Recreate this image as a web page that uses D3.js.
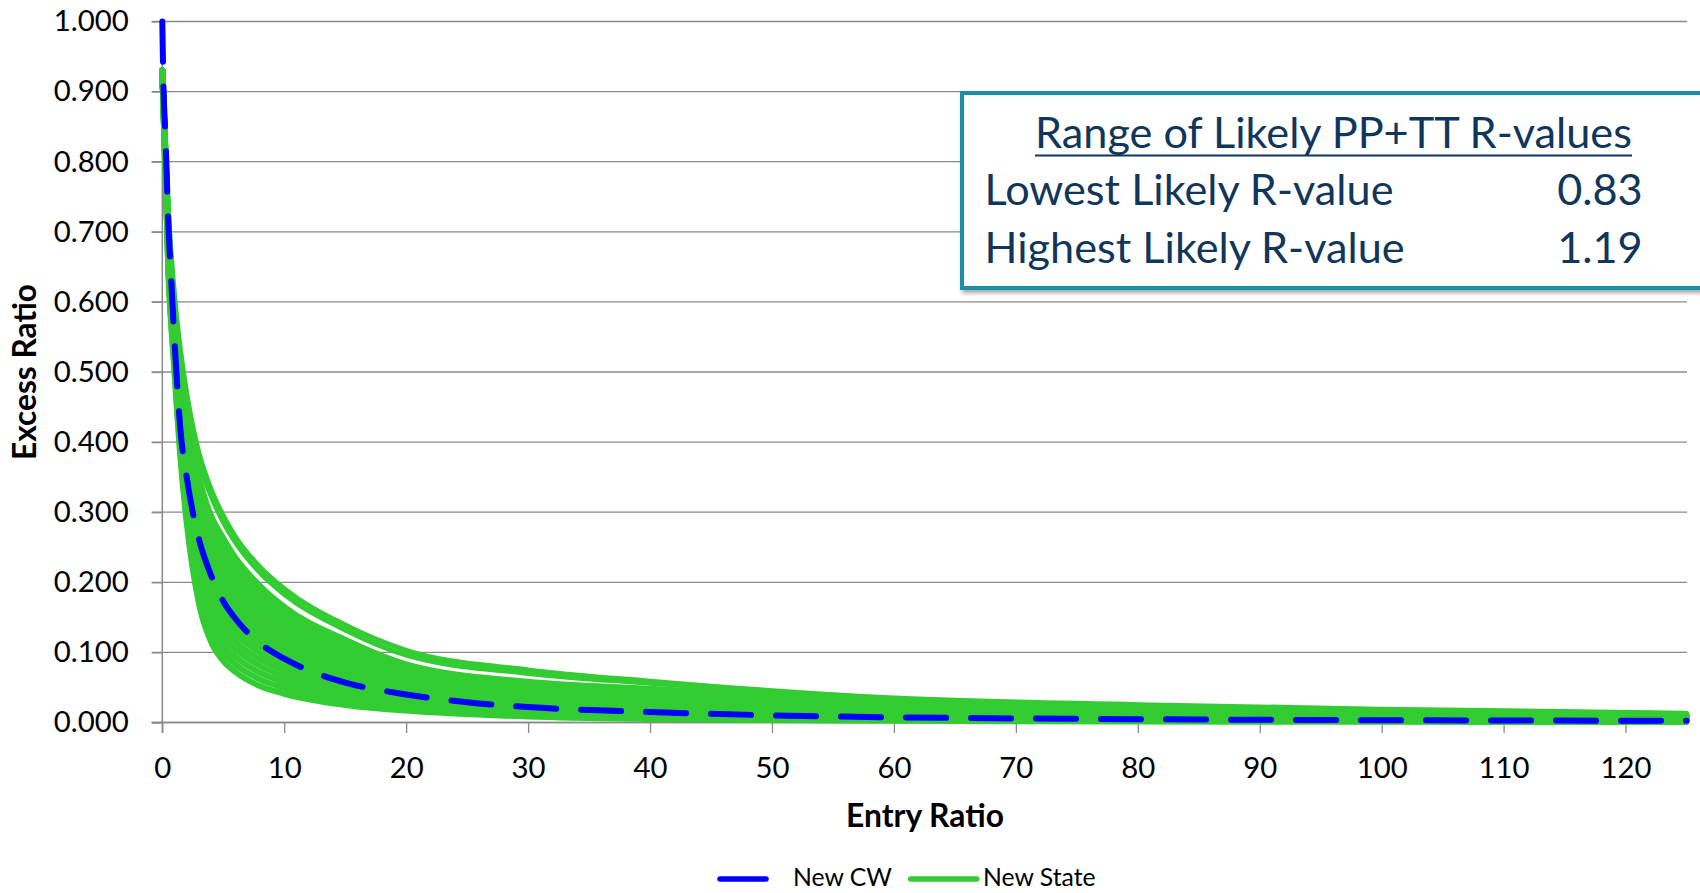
<!DOCTYPE html>
<html><head><meta charset="utf-8">
<script src="https://cdn.jsdelivr.net/npm/d3@7"></script>
<style>
html,body{margin:0;padding:0;background:#fff;}
svg{display:block;}
text{font-family:"Lato","Open Sans",sans-serif;}
</style></head>
<body><svg id="chart" width="1700" height="893"></svg>
<script>
// ---------- DATA ----------
const entryRatioCW = [0, 0.1, 0.25, 0.5, 0.75, 1, 1.5, 2, 2.5, 3, 4, 5, 6, 8, 10, 12.5, 15, 20, 25, 30, 40, 50, 60, 70, 80, 90, 100, 110, 125];
const excessCW     = [1.0, 0.905, 0.84, 0.71, 0.625, 0.545, 0.415, 0.35, 0.30, 0.262, 0.21, 0.173, 0.148, 0.113, 0.091, 0.071, 0.057, 0.040, 0.029, 0.022, 0.015, 0.0102, 0.0074, 0.0058, 0.0047, 0.0039, 0.0033, 0.0029, 0.0024];

const entryRatioState = [0, 0.5, 1, 1.5, 2, 3, 4, 5, 6, 8, 10, 15, 20, 30, 40, 60, 80, 100, 125];
const state01 = [0.93, 0.73, 0.61, 0.53, 0.47, 0.385, 0.333, 0.295, 0.265, 0.222, 0.191, 0.139, 0.103, 0.075, 0.059, 0.035, 0.0255, 0.019, 0.0133];
const state02 = [0.93, 0.72, 0.595, 0.515, 0.455, 0.372, 0.323, 0.286, 0.257, 0.214, 0.183, 0.132, 0.096, 0.070, 0.056, 0.033, 0.024, 0.0178, 0.0124];
const state03 = [0.93, 0.71, 0.58, 0.49, 0.43, 0.35, 0.295, 0.263, 0.235, 0.195, 0.165, 0.118, 0.083, 0.058, 0.048, 0.030, 0.0215, 0.016, 0.011];
const state04 = [0.93, 0.705, 0.575, 0.482, 0.420, 0.338, 0.283, 0.251, 0.224, 0.1855, 0.1567, 0.1118, 0.0786, 0.0547, 0.0451, 0.0282, 0.0202, 0.015, 0.0103];
const state05 = [0.93, 0.701, 0.569, 0.475, 0.411, 0.326, 0.271, 0.240, 0.213, 0.176, 0.1485, 0.1056, 0.0742, 0.0514, 0.0423, 0.0263, 0.0188, 0.014, 0.0096];
const state06 = [0.93, 0.696, 0.564, 0.467, 0.401, 0.314, 0.259, 0.228, 0.2024, 0.1664, 0.1402, 0.0994, 0.0698, 0.0481, 0.0394, 0.0245, 0.0175, 0.013, 0.0089];
const state07 = [0.93, 0.691, 0.559, 0.459, 0.391, 0.302, 0.247, 0.216, 0.1915, 0.1569, 0.1319, 0.0932, 0.0654, 0.0448, 0.0365, 0.0227, 0.0162, 0.012, 0.0083];
const state08 = [0.93, 0.687, 0.553, 0.452, 0.382, 0.290, 0.235, 0.205, 0.1807, 0.1473, 0.1237, 0.087, 0.061, 0.0415, 0.0337, 0.0208, 0.0148, 0.011, 0.0076];
const state09 = [0.93, 0.682, 0.548, 0.444, 0.372, 0.278, 0.223, 0.193, 0.1698, 0.1378, 0.1154, 0.0808, 0.0566, 0.0382, 0.0308, 0.019, 0.0135, 0.010, 0.0069];
const state10 = [0.93, 0.677, 0.543, 0.436, 0.362, 0.266, 0.211, 0.181, 0.1589, 0.1283, 0.1071, 0.0746, 0.0522, 0.0349, 0.0279, 0.0172, 0.0122, 0.009, 0.0062];
const state11 = [0.93, 0.673, 0.537, 0.429, 0.353, 0.254, 0.199, 0.170, 0.1481, 0.1187, 0.0989, 0.0684, 0.0478, 0.0316, 0.0251, 0.0153, 0.0108, 0.008, 0.0055];
const state12 = [0.93, 0.668, 0.532, 0.421, 0.343, 0.242, 0.187, 0.158, 0.1372, 0.1092, 0.0906, 0.0622, 0.0434, 0.0283, 0.0222, 0.0135, 0.0095, 0.007, 0.0048];
const state13 = [0.93, 0.663, 0.527, 0.413, 0.333, 0.230, 0.175, 0.146, 0.1263, 0.0997, 0.0823, 0.056, 0.039, 0.025, 0.0193, 0.0117, 0.0082, 0.006, 0.0041];
const state14 = [0.93, 0.659, 0.521, 0.406, 0.324, 0.218, 0.163, 0.135, 0.1155, 0.0901, 0.0741, 0.0498, 0.0346, 0.0217, 0.0165, 0.0098, 0.0068, 0.005, 0.0034];
const state15 = [0.93, 0.654, 0.516, 0.398, 0.314, 0.206, 0.151, 0.123, 0.1046, 0.0806, 0.0658, 0.0436, 0.0302, 0.0184, 0.0136, 0.008, 0.0055, 0.004, 0.0027];
const state16 = [0.93, 0.649, 0.511, 0.390, 0.304, 0.194, 0.139, 0.111, 0.0937, 0.0711, 0.0575, 0.0374, 0.0258, 0.0151, 0.0107, 0.0062, 0.0042, 0.003, 0.0021];
const state17 = [0.93, 0.645, 0.505, 0.383, 0.295, 0.182, 0.127, 0.0997, 0.0829, 0.0615, 0.0493, 0.0312, 0.0214, 0.0118, 0.0079, 0.0043, 0.0028, 0.002, 0.0014];
const state18 = [0.93, 0.64, 0.50, 0.375, 0.285, 0.17, 0.115, 0.088, 0.072, 0.052, 0.041, 0.025, 0.017, 0.0085, 0.005, 0.0025, 0.0015, 0.001, 0.0007];
const outerStates = [state01, state02];
const bandStates = [state03, state04, state05, state06, state07, state08, state09, state10,
                    state11, state12, state13, state14, state15, state16, state17, state18];

const yTicks = [0, 0.1, 0.2, 0.3, 0.4, 0.5, 0.6, 0.7, 0.8, 0.9, 1.0];
const xTicks = [0, 10, 20, 30, 40, 50, 60, 70, 80, 90, 100, 110, 120];
const xTitle = "Entry Ratio";
const yTitle = "Excess Ratio";
const legendLabels = ["New CW", "New State"];
const boxTitle = "Range of Likely PP+TT R-values";
const boxRowLabels = ["Lowest Likely R-value", "Highest Likely R-value"];
const boxRowValues = ["0.83", "1.19"];

// ---------- LAYOUT ----------
(function () {
const svg = d3.select("#chart");
const pLeft = 162.3, pRight = 1686.5, pTop = 21.5, pBottom = 722.5;
const x = d3.scaleLinear().domain([0, 125]).range([pLeft, pRight]);
const y = d3.scaleLinear().domain([0, 1]).range([pBottom, pTop]);
const gridColor = "#8a8a8a";
const navy = "#11365c";
const green = "#33cc33";

function fitSize(sel, target, base) {
  base = base || 40;
  sel.style("font-size", base + "px");
  const len = sel.node().getComputedTextLength();
  const s = base * target / len;
  sel.style("font-size", s + "px");
  return s;
}

// gridlines
svg.append("g").selectAll("line").data(yTicks).join("line")
  .attr("x1", pLeft - 10.6).attr("x2", 1687)
  .attr("y1", d => y(d)).attr("y2", d => y(d))
  .attr("stroke", gridColor).attr("stroke-width", 1.3);

// y axis
const yAxis = svg.append("g").attr("transform", `translate(${pLeft},0)`)
  .call(d3.axisLeft(y).tickValues(yTicks).tickFormat(d3.format(".3f")).tickSize(10.6).tickPadding(23));
yAxis.select(".domain").remove();
yAxis.selectAll(".tick line").attr("stroke", gridColor).attr("stroke-width", 1.3);
svg.append("line").attr("x1", pLeft).attr("x2", pLeft).attr("y1", pTop).attr("y2", pBottom + 10.5)
  .attr("stroke", gridColor).attr("stroke-width", 1.5);

// x axis
const xAxis = svg.append("g").attr("transform", `translate(0,${pBottom})`)
  .call(d3.axisBottom(x).tickValues(xTicks).tickSize(10.5).tickPadding(24));
xAxis.select(".domain").remove();
xAxis.selectAll(".tick line").attr("stroke", gridColor).attr("stroke-width", 1.3);
svg.append("line").attr("x1", pLeft - 10.6).attr("x2", 1687).attr("y1", pBottom).attr("y2", pBottom)
  .attr("stroke", gridColor).attr("stroke-width", 1.5);

// tick label fonts
svg.selectAll(".tick text").attr("font-family", null).attr("fill", "#000");
const probe = yAxis.selectAll(".tick text").filter(d => d === 1.0);
const tickFont = fitSize(probe, 75);
svg.selectAll(".tick text").style("font-size", tickFont + "px");
yAxis.attr("font-size", null);
xAxis.attr("font-size", null);

// axis titles
const yt = svg.append("text").text(yTitle).attr("font-weight", "bold").attr("fill", "#000")
  .attr("text-anchor", "middle").attr("dominant-baseline", "central")
  .attr("transform", "translate(24,372) rotate(-90)");
fitSize(yt, 176);
const xt = svg.append("text").text(xTitle).attr("font-weight", "bold").attr("fill", "#000")
  .attr("text-anchor", "middle").attr("dominant-baseline", "central")
  .attr("x", 925).attr("y", 815);
fitSize(xt, 158);

// ---------- SERIES ----------
const lineState = d3.line().x((d, i) => x(entryRatioState[i])).y(d => y(d)).curve(d3.curveMonotoneX);
svg.append("g").selectAll("path").data(bandStates).join("path")
  .attr("d", lineState)
  .attr("fill", "none").attr("stroke", green).attr("stroke-width", 6)
  .attr("stroke-linejoin", "round").attr("stroke-linecap", "round");
svg.append("g").selectAll("path").data(outerStates).join("path")
  .attr("d", lineState)
  .attr("fill", "none").attr("stroke", green).attr("stroke-width", 5)
  .attr("stroke-linejoin", "round").attr("stroke-linecap", "round");

const lineCW = d3.line().x((d, i) => x(entryRatioCW[i])).y(d => y(d)).curve(d3.curveMonotoneX);
svg.append("path").datum(excessCW).attr("d", lineCW)
  .attr("fill", "none").attr("stroke", "#0000ff").attr("stroke-width", 6)
  .attr("stroke-dasharray", "40,25").attr("stroke-linecap", "round").attr("stroke-linejoin", "round");

// ---------- LEGEND ----------
const legLineY = 879;
const legBase = 886;
svg.append("line").attr("x1", 720).attr("x2", 766).attr("y1", legLineY).attr("y2", legLineY)
  .attr("stroke", "#0000ff").attr("stroke-width", 5.5).attr("stroke-linecap", "round");
const l1 = svg.append("text").text(legendLabels[0]).attr("x", 793).attr("y", legBase).attr("fill", "#000");
const legSize = fitSize(l1, 99);
svg.append("line").attr("x1", 910.7).attr("x2", 976.7).attr("y1", legLineY).attr("y2", legLineY)
  .attr("stroke", green).attr("stroke-width", 5.5).attr("stroke-linecap", "round");
svg.append("text").text(legendLabels[1]).attr("x", 983).attr("y", legBase)
  .attr("fill", "#000").style("font-size", legSize + "px");

// ---------- INFO BOX ----------
const defs = svg.append("defs");
const f = defs.append("filter").attr("id", "shadow").attr("x", "-5%").attr("y", "-5%").attr("width", "115%").attr("height", "120%");
f.append("feDropShadow").attr("dx", 2).attr("dy", 3).attr("stdDeviation", 2).attr("flood-color", "#000").attr("flood-opacity", 0.35);
svg.append("rect").attr("x", 962).attr("y", 93).attr("width", 800).attr("height", 195)
  .attr("fill", "#fff").attr("stroke", "#1f8fa8").attr("stroke-width", 4).attr("filter", "url(#shadow)");

const bt = svg.append("text").text(boxTitle).attr("x", 1333.5).attr("y", 148)
  .attr("text-anchor", "middle").attr("fill", navy);
fitSize(bt, 597);
svg.append("line").attr("x1", 1035).attr("x2", 1632).attr("y1", 155.5).attr("y2", 155.5)
  .attr("stroke", navy).attr("stroke-width", 2.2);

const rowY = [205, 263];
const r0 = svg.append("text").text(boxRowLabels[0]).attr("x", 984.5).attr("y", rowY[0]).attr("fill", navy);
const rowSize = fitSize(r0, 409);
svg.append("text").text(boxRowLabels[1]).attr("x", 984.5).attr("y", rowY[1]).attr("fill", navy).style("font-size", rowSize + "px");
svg.append("g").selectAll("text").data(boxRowValues).join("text")
  .text(d => d).attr("x", 1642.6).attr("y", (d, i) => rowY[i]).attr("text-anchor", "end")
  .attr("fill", navy).style("font-size", rowSize + "px");
})();
</script>
</body></html>
